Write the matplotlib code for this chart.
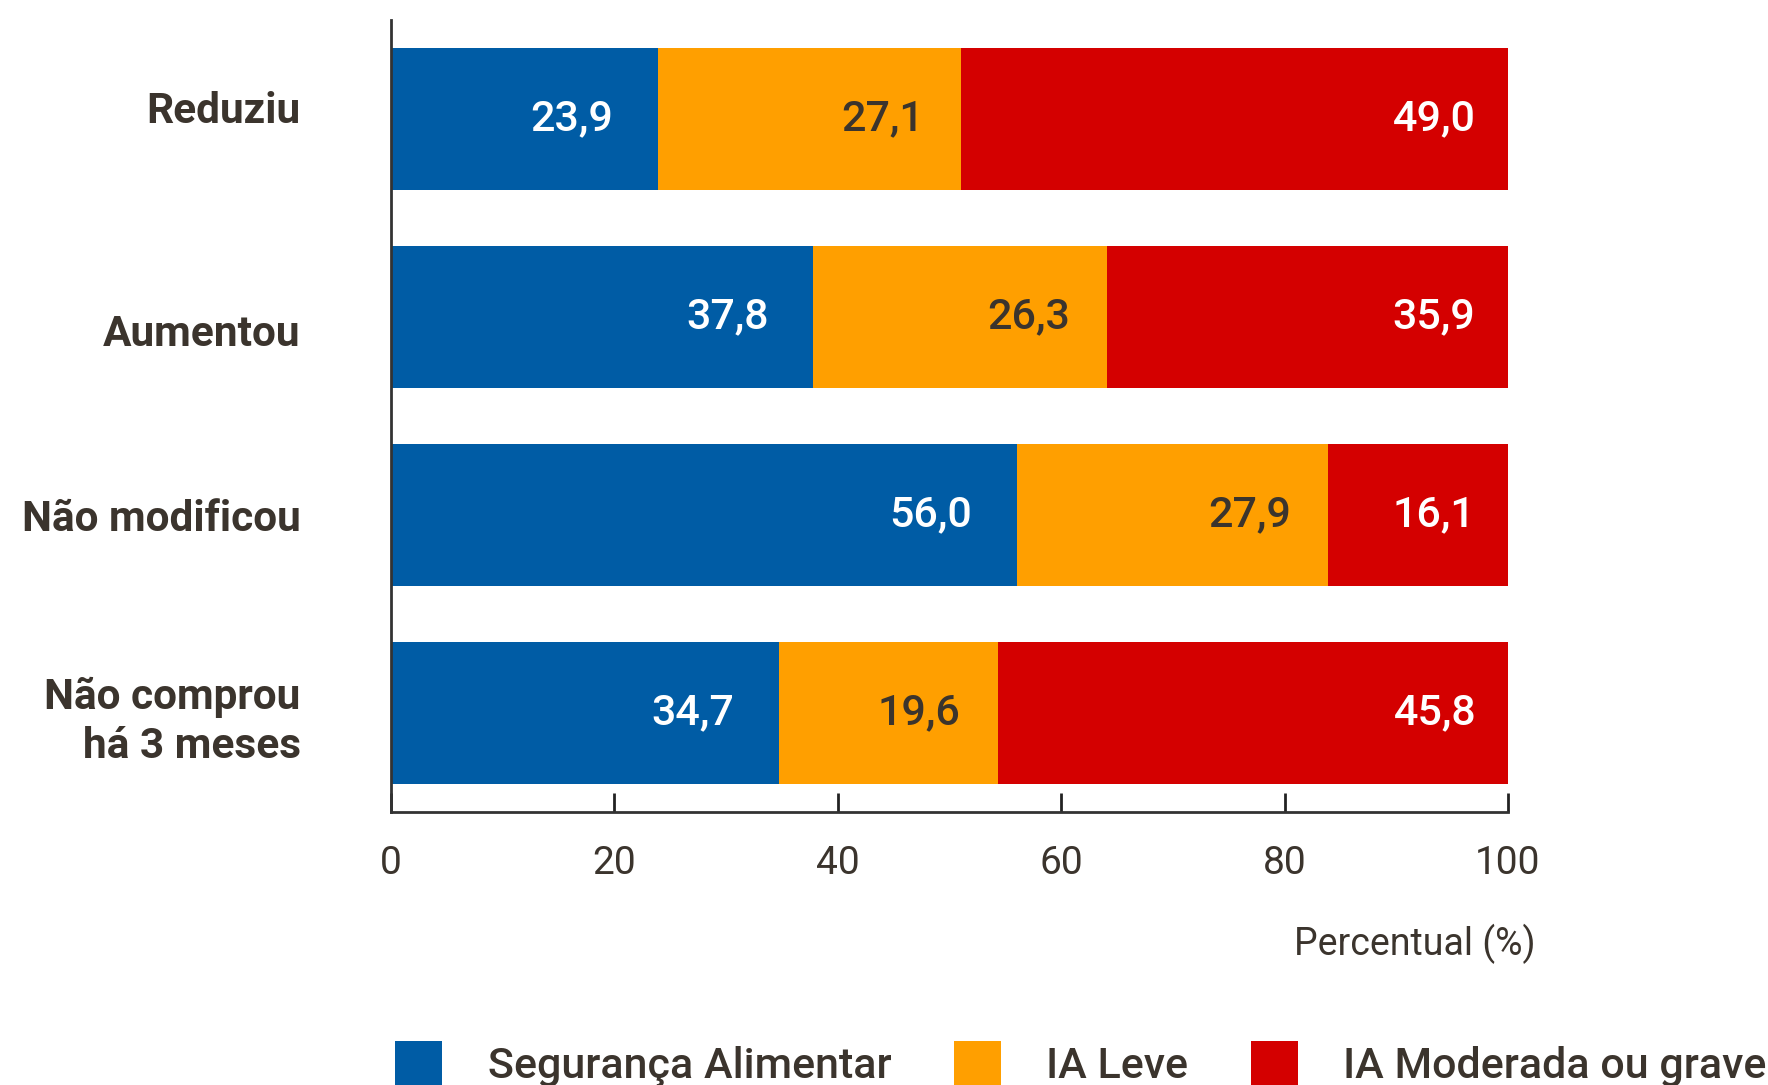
import matplotlib
matplotlib.use("Agg")
import matplotlib.pyplot as plt
from matplotlib.patches import Patch
from matplotlib.transforms import ScaledTranslation
import numpy as np

plt.rcParams['font.family'] = ['Roboto', 'DejaVu Sans']

categorias = ["Reduziu", "Aumentou", "Não modificou", "Não comprou\nhá 3 meses"]
seguranca = [23.9, 37.8, 56.0, 34.7]
ia_leve = [27.1, 26.3, 27.9, 19.6]
ia_moderada = [49.0, 35.9, 16.1, 45.8]
series_nomes = ["Segurança Alimentar", "IA Leve", "IA Moderada ou grave"]
xticks = [0, 20, 40, 60, 80, 100]

cores = ["#005CA5", "#FF9F00", "#D40000"]
cor_texto = "#3B342D"
cor_rotulo = ["white", cor_texto, "white"]
recuo_rotulo = [4.0, 3.3, 2.9]  # distancia do rotulo ao fim do segmento
ajuste_categoria = [8.6, -9.0, 0, 0]  # deslocamento vertical (pt) dos nomes

fig = plt.figure(figsize=(17.68, 10.85), dpi=100)
ax = fig.add_axes([391 / 1768, 1 - 812 / 1085, 1117 / 1768, 792 / 1085])

y = np.arange(len(categorias))
esquerda = np.zeros(len(categorias))
for valores, cor, cor_r, recuo in zip([seguranca, ia_leve, ia_moderada], cores,
                                      cor_rotulo, recuo_rotulo):
    valores = np.array(valores)
    ax.barh(y, valores, left=esquerda, height=0.72, color=cor)
    for yi, fim, v in zip(y, esquerda + valores, valores):
        ax.text(fim - recuo, yi, f"{v:.1f}".replace(".", ","), ha="right",
                va="center", color=cor_r, fontsize=31, fontweight="medium")
    esquerda = esquerda + valores

ax.set_xlim(0, 100)
ax.set_ylim(3.5, -0.5)
ax.set_xticks(xticks)
ax.set_xticklabels([str(t) for t in xticks], fontsize=28, color=cor_texto)
ax.tick_params(axis="y", length=0, pad=65)
ax.tick_params(axis="x", direction="in", length=14, width=2, color="#222222", pad=24)
ax.set_yticks(y)
ax.set_yticklabels(categorias, fontsize=30.5, fontweight="bold", color=cor_texto,
                   linespacing=1.25)
for rotulo, dy in zip(ax.get_yticklabels(), ajuste_categoria):
    rotulo.set_transform(rotulo.get_transform()
                         + ScaledTranslation(0, dy / 72, fig.dpi_scale_trans))

for lado in ["top", "right"]:
    ax.spines[lado].set_visible(False)
for lado in ["left", "bottom"]:
    ax.spines[lado].set_linewidth(2)
    ax.spines[lado].set_color("#333333")

ax.set_xlabel("Percentual (%)", fontsize=27, color=cor_texto, ha="right", va="center")
ax.xaxis.set_label_coords(1.025, -0.166)

handles = [Patch(facecolor=c, edgecolor="none") for c in cores]
fig.legend(handles, series_nomes, loc="center left",
           bbox_to_anchor=(395 / 1768, 1 - 1064 / 1085), ncol=3, frameon=False,
           handlelength=1.1, handleheight=1.2, handletextpad=1.05,
           columnspacing=1.45, borderpad=0, borderaxespad=0,
           labelcolor=cor_texto, prop={"size": 31, "weight": "medium"})

fig.savefig("out.png", dpi=100)
